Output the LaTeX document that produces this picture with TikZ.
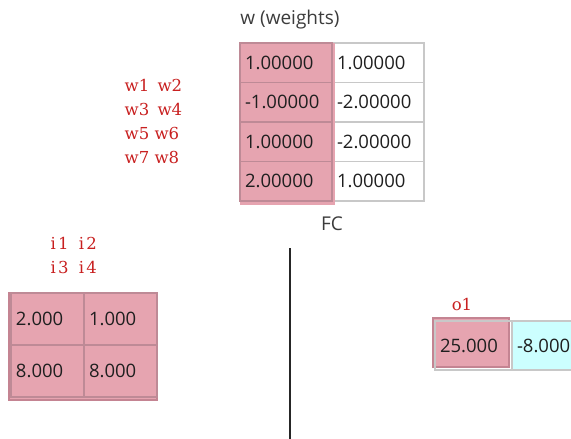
\documentclass[tikz,border=0pt]{standalone}
\usepackage{fontspec}
\setmainfont{DejaVu Serif}
\setsansfont{Open Sans}
\usetikzlibrary{positioning}

\definecolor{hlpink}{RGB}{230,164,176}
\definecolor{hledge}{RGB}{196,132,146}
\definecolor{gridgray}{RGB}{200,200,200}
\definecolor{pinkgrid}{RGB}{190,138,150}
\definecolor{outcyan}{RGB}{204,255,255}
\definecolor{lblred}{RGB}{200,32,32}
\definecolor{txtgray}{RGB}{60,60,60}

\begin{document}
\begin{tikzpicture}[x=1pt,y=-1pt,line width=0.8pt]
\tikzset{
  cell/.style={draw=gridgray,line width=1.2pt,fill=white,outer sep=0pt,inner xsep=5pt,inner ysep=0pt,
    align=left,font=\sffamily\fontsize{18.5}{20}\selectfont,text=black!88},
  onpink/.style={fill=none,draw=pinkgrid},
  wcell/.style={cell,minimum width=92pt,text width=82pt,minimum height=39.5pt},
  icell/.style={cell,minimum width=73pt,text width=63pt,minimum height=52pt},
  ocell/.style={cell,minimum width=77pt,text width=67pt,minimum height=49pt},
  hilite/.style={fill=hlpink,draw=hledge,line width=1.2pt},
  lbl/.style={text=lblred,align=left,font=\fontsize{16.5}{24}\selectfont},
  caption/.style={text=txtgray,font=\sffamily\fontsize{19}{22}\selectfont}
}
\useasboundingbox (0,0) rectangle (571,439);
% ---------- weights (FC layer) ----------
\node[caption] (wcap) at (290,20) {w (weights)};
\node[wcell,anchor=north west] (w12) at (332,43) {1.00000};
\node[wcell,below=0pt of w12] (w22) {-2.00000};
\node[wcell,below=0pt of w22] (w32) {-2.00000};
\node[wcell,below=0pt of w32] (w42) {1.00000};
\fill[hilite,draw=none] (240,43) rectangle ([xshift=3pt,yshift=-4pt]w42.south west);
\node[wcell,onpink,left=0pt of w12] (w11) {1.00000};
\node[wcell,onpink,left=0pt of w22] (w21) {-1.00000};
\node[wcell,onpink,left=0pt of w32] (w31) {1.00000};
\node[wcell,onpink,left=0pt of w42] (w41) {2.00000};
\node[caption] (fc) at (332,224) {FC};
\node[lbl,anchor=north west] (wlbl) at (121,76) {w1 \kern3pt w2\\w3 \kern3pt w4\\w5 w6\\w7 w8};
% ---------- input ----------
\node[lbl,anchor=north west] (ilbl) at (47,234) {i\kern2pt 1\ \ i\kern2pt 2\\i\kern2pt 3\ \ i\kern2pt 4};
\filldraw[hilite] (9,293) rectangle (157,400);
\node[icell,onpink,anchor=north west] (i11) at (11,293) {2.000};
\node[icell,onpink,right=0pt of i11] (i12) {1.000};
\node[icell,onpink,below=0pt of i11] (i21) {8.000};
\node[icell,onpink,right=0pt of i21] (i22) {8.000};
% ---------- output ----------
\node[lbl] (olbl) at (462,304) {o1};
\filldraw[hilite] (433,318) rectangle (509,367);
\node[ocell,anchor=north west,fill=none] (o1) at (435,321) {25.000};
\node[ocell,fill=outcyan,right=0pt of o1] (o2) {-8.000};
% ---------- divider ----------
\draw[line width=2pt,black!85] (290,248) -- (290,439);
\end{tikzpicture}
\end{document}
